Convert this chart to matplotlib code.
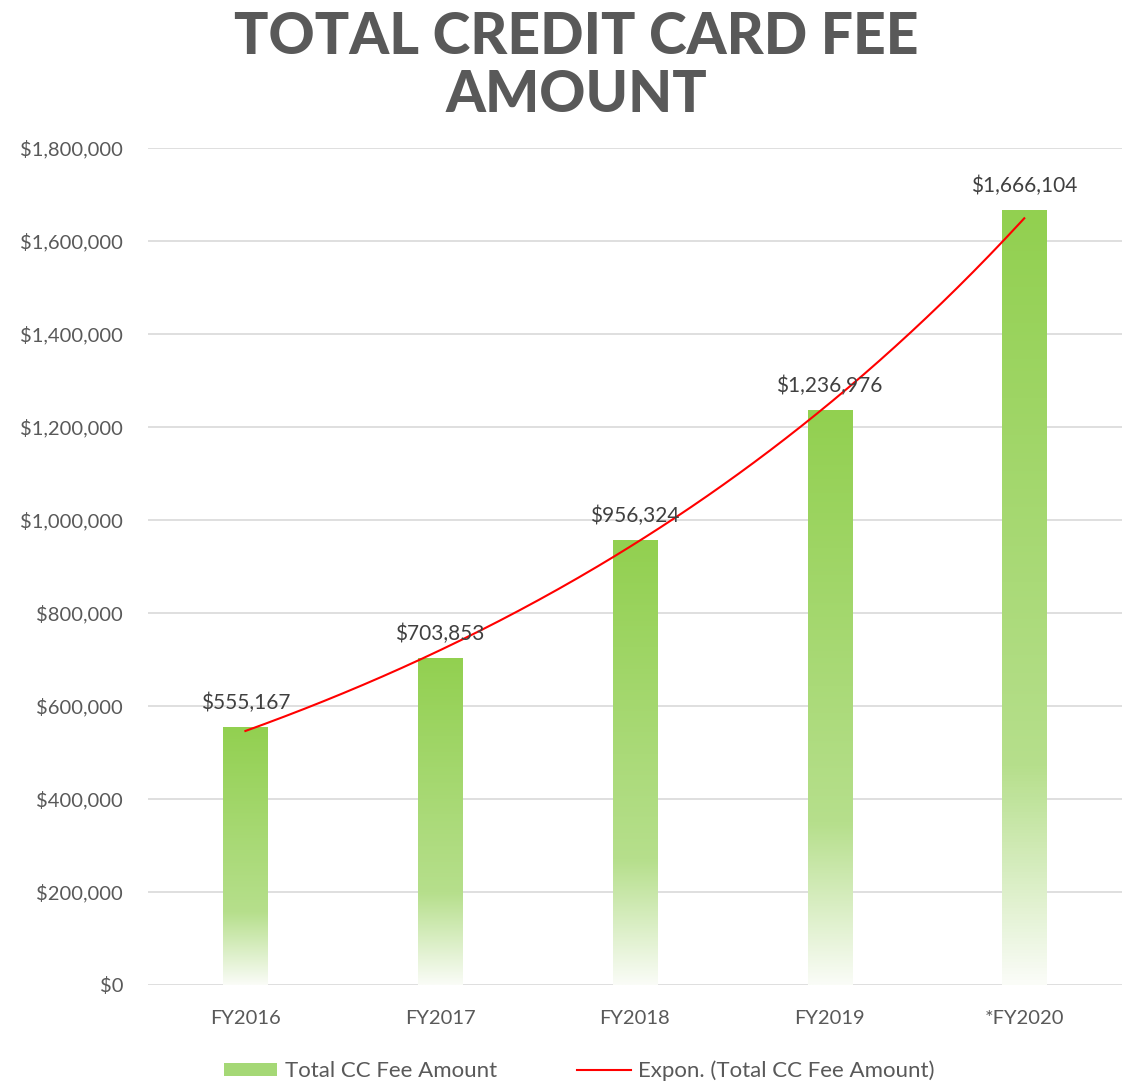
import numpy as np
import matplotlib
matplotlib.use("Agg")
import matplotlib.pyplot as plt
from matplotlib.colors import LinearSegmentedColormap
from matplotlib.patches import Patch
from matplotlib.lines import Line2D
from matplotlib.ticker import FuncFormatter

categories = ["FY2016", "FY2017", "FY2018", "FY2019", "*FY2020"]
values = [555167, 703853, 956324, 1236976, 1666104]
yticks = [0, 200000, 400000, 600000, 800000, 1000000, 1200000, 1400000, 1600000, 1800000]

plt.rcParams['font.family'] = ['Lato', 'DejaVu Sans']

fig = plt.figure(figsize=(11.25, 10.83), dpi=100)
ax = fig.add_axes([0.1316, 0.0905, 0.8654, 0.7728])

x = np.arange(len(categories))
width = 0.226

cmap = LinearSegmentedColormap.from_list(
    "g", [(0.0, (146/255, 208/255, 80/255)),
          (0.72, (182/255, 223/255, 140/255)),
          (1.0, (250/255, 252/255, 247/255))])
grad = np.linspace(0, 1, 256).reshape(-1, 1)

bars = ax.bar(x, values, width=width, color='none', zorder=3)
for b, v in zip(bars, values):
    x0 = b.get_x()
    im = ax.imshow(grad, cmap=cmap, aspect='auto', origin='upper',
                   extent=[x0, x0 + width, 0, v], zorder=3, interpolation='bilinear')
    im.set_clip_path(b)
    ax.text(b.get_x() + width / 2, v + 30000, f"${v:,.0f}", ha='center', va='bottom',
            fontsize=15, color='#404040', zorder=5)

# exponential trendline (Excel style: log-linear fit)
xs = x + 1
bcoef, lna = np.polyfit(xs, np.log(values), 1)
xt = np.linspace(1, 5, 200)
yt = np.exp(lna) * np.exp(bcoef * xt)
ax.plot(xt - 1, yt, color='#FF0000', lw=1.5, zorder=4)

ax.set_xlim(-0.5, 4.5)
ax.set_ylim(0, 1800000)
ax.set_yticks(yticks)
ax.yaxis.set_major_formatter(FuncFormatter(lambda v, p: f"${v:,.0f}"))
ax.set_xticks(x)
ax.set_xticklabels(categories)
ax.tick_params(axis='both', length=0, labelsize=14.5, colors='#595959')
ax.tick_params(axis='x', pad=18)
ax.tick_params(axis='y', pad=18)
for s in ax.spines.values():
    s.set_visible(False)
ax.grid(axis='y', color='#D9D9D9', lw=1.2, zorder=0)
ax.set_axisbelow(True)

fig.text(0.512, 0.99, "TOTAL CREDIT CARD FEE\nAMOUNT", ha='center', va='top',
         fontsize=41, fontweight='black', color='#595959', linespacing=1.12)

handles = [Patch(facecolor='#A5D876', edgecolor='none', label='Total CC Fee Amount'),
           Line2D([0], [0], color='#FF0000', lw=1.5, label='Expon. (Total CC Fee Amount)')]
fig.legend(handles=handles, loc='center', bbox_to_anchor=(0.515, 0.011), ncol=2,
           frameon=False, fontsize=16, labelcolor='#595959', handlelength=2.4,
           handleheight=0.55, columnspacing=3.6, handletextpad=0.35)

fig.savefig("out.png", dpi=100)
